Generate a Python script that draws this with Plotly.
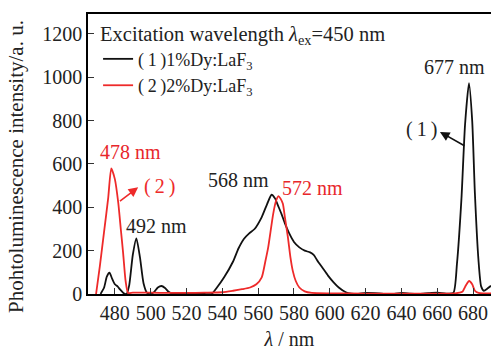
import plotly.graph_objects as go

# ---- data ----
wl_1 = [472, 474, 475.5, 477, 478.5, 480, 481.5, 483, 485, 486.5,
        488, 490, 492, 494, 496, 498, 500, 502, 504, 506,
        508, 510, 512, 515, 520, 525, 530, 534, 537, 541,
        546, 549, 552, 555, 558, 562, 565, 567.5, 569.5, 571,
        573, 575, 577.5, 580, 583, 586, 589, 591, 593, 596,
        599, 602, 605, 609, 612, 615, 620, 625, 630, 636,
        640, 645, 650, 655, 660, 665, 669, 671, 673.5, 675.5,
        677.7, 679.5, 681, 683, 684.5, 686, 688, 690]
int_1 = [0, 30, 80, 98, 70, 45, 35, 20, 3, 0,
         40, 180, 257, 170, 50, 5, 0, 10, 30, 37,
         28, 10, 2, 0, 4, 1, 0, 0, 30, 77,
         150, 210, 254, 280, 300, 355, 415, 458, 440, 410,
         370, 325, 277, 240, 215, 200, 192, 180, 155, 120,
         85, 55, 30, 8, 2, 0, 5, 4, 1, 0,
         5, 2, 1, 4, 6, 2, 5, 140, 440, 780,
         973, 800, 466, 157, 35, 15, 25, 38]

wl_2 = [469.5, 471.6, 473.9, 476.3, 478, 480, 481.9, 483.3, 484.6, 486,
        487.4, 490, 500, 510, 520, 530, 540, 546, 551, 555.5,
        559, 562, 564, 565.6, 568.4, 570, 571.3, 572.5, 573.8, 575,
        576.6, 578, 579.3, 581, 583, 586, 590, 600, 620, 640,
        660, 670, 674, 676, 677.8, 679.5, 681, 683, 686, 690]
int_2 = [0, 128, 282, 445, 580, 530, 420, 300, 190, 60,
         5, 6, 6, 5, 5, 6, 8, 15, 22, 30,
         45, 77, 150, 215, 370, 430, 452, 440, 416, 350,
         262, 170, 108, 60, 30, 12, 5, 3, 2, 2,
         2, 3, 10, 40, 60, 45, 15, 5, 3, 3]

x_ticks = [480, 500, 520, 540, 560, 580, 600, 620, 640, 660, 680]
y_ticks = [0, 200, 400, 600, 800, 1000, 1200]

TS = "\u2009"
name_1 = "(" + TS + "1" + TS + ")1%Dy:LaF<sub>3</sub>"
name_2 = "(" + TS + "2" + TS + ")2%Dy:LaF<sub>3</sub>"
legend_title = "Excitation wavelength <i>λ</i><sub>ex</sub>=450 nm"

# peak labels: (x, y, text, colour)
peak_x = [489, 503.5, 549.3, 590.3, 669.4]
peak_y = [657, 314, 526, 488, 1049]
peak_text = ["478 nm", "492 nm", "568 nm", "572 nm", "677 nm"]
peak_color = ["#e8262b", "#222222", "#222222", "#e8262b", "#222222"]

FONT = "Liberation Serif, Times New Roman, serif"
BLACK = "#111111"
RED = "#ee2a2a"

fig = go.Figure()
fig.add_trace(go.Scatter(x=wl_1, y=int_1, mode="lines", name=name_1,
                         line=dict(color=BLACK, width=1.8, shape="spline", smoothing=0.6)))
fig.add_trace(go.Scatter(x=wl_2, y=int_2, mode="lines", name=name_2,
                         line=dict(color=RED, width=1.8, shape="spline", smoothing=0.6)))

for x, y, t, c in zip(peak_x, peak_y, peak_text, peak_color):
    fig.add_annotation(x=x, y=y, text=t, showarrow=False,
                       font=dict(family=FONT, size=20, color=c))

# series labels with arrows (arrow head at the label)
fig.add_annotation(x=661.5, y=748, ax=676, ay=680, axref="x", ayref="y",
                   text="", showarrow=True, arrowhead=2, arrowsize=1.2,
                   arrowwidth=1.6, arrowcolor=BLACK)
fig.add_annotation(x=651.3, y=757, text="(" + TS + "1" + TS + ")", showarrow=False,
                   font=dict(family=FONT, size=20, color="#222222"))
fig.add_annotation(x=493, y=492, ax=482, ay=423, axref="x", ayref="y",
                   text="", showarrow=True, arrowhead=2, arrowsize=1.2,
                   arrowwidth=1.6, arrowcolor=RED)
fig.add_annotation(x=505.1, y=495, text="(" + TS + "2" + TS + ")", showarrow=False,
                   font=dict(family=FONT, size=20, color=RED))

# y-axis title
fig.add_annotation(xref="paper", yref="paper", x=-0.179, y=0.457,
                   text="Phohtoluminescence intensity/a. u.", textangle=-90,
                   showarrow=False, xanchor="center", yanchor="middle",
                   font=dict(family=FONT, size=21, color="#222222"))

fig.update_layout(
    width=491, height=350,
    margin=dict(l=88, r=0, t=14, b=56),
    plot_bgcolor="white", paper_bgcolor="white",
    font=dict(family=FONT, size=20, color="#222222"),
    showlegend=True,
    legend=dict(x=0.025, y=1.0, xanchor="left", yanchor="top",
                bgcolor="rgba(0,0,0,0)",
                font=dict(family=FONT, size=18, color="#222222"),
                title=dict(text=legend_title, side="top",
                           font=dict(family=FONT, size=20.5, color="#222222")),
                tracegroupgap=0),
)
fig.update_xaxes(range=[465, 690], tickvals=x_ticks, ticks="inside", ticklen=6,
                 tickcolor="#333", showline=True, linecolor="black", linewidth=1.5,
                 mirror=True, showgrid=False, zeroline=False,
                 tickfont=dict(family=FONT, size=20, color="#222222"),
                 title=dict(text="<i>λ</i> / nm", standoff=12,
                            font=dict(family=FONT, size=20, color="#222222")))
fig.update_yaxes(range=[0, 1292], tickvals=y_ticks, ticks="inside", ticklen=6,
                 tickcolor="#333", showline=True, linecolor="black", linewidth=1.5,
                 mirror=False, showgrid=False, zeroline=False,
                 tickfont=dict(family=FONT, size=20, color="#222222"))

fig.write_html("out.html", config=dict(displayModeBar=False),
               post_script="document.body.style.margin='0';document.body.style.padding='0';")
